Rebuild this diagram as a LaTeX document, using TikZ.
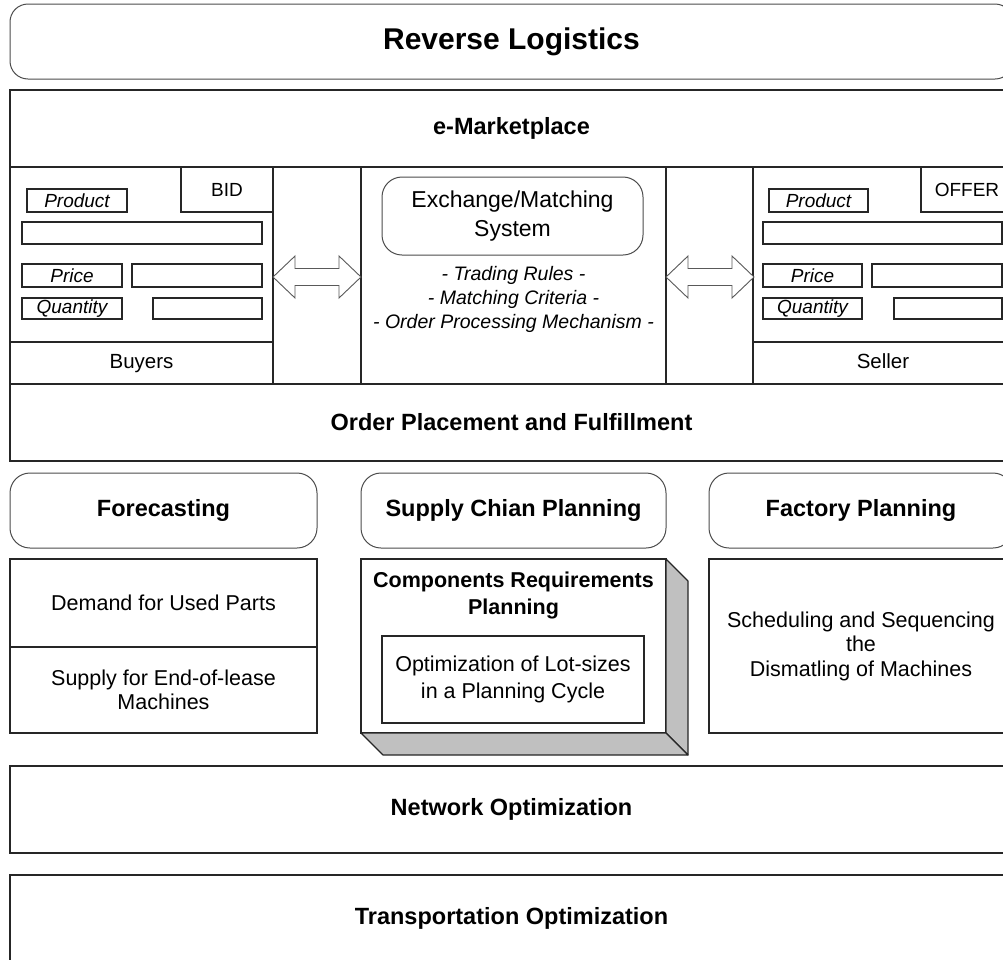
\documentclass[tikz,border=0pt]{standalone}
\usepackage{fontspec}
\setmainfont{Liberation Sans}
\definecolor{shadegray}{RGB}{192,192,192}
\tikzset{
  rect/.style={draw=black!85, line width=1.3pt, fill=white, inner sep=0pt, outer sep=0pt},
  rnd/.style={draw=black!70, line width=1pt, fill=white, rounded corners=18pt, inner sep=0pt, outer sep=0pt},
  field/.style={draw=black!85, line width=1.1pt, fill=white, inner sep=0pt, outer sep=0pt},
  titlef/.style={font=\fontsize{30}{34}\selectfont\bfseries},
  hbold/.style={font=\fontsize{23.5}{28}\selectfont\bfseries, align=center},
  sbold/.style={font=\fontsize{21.5}{27}\selectfont\bfseries, align=center},
  body/.style={font=\fontsize{21.5}{24.5}\selectfont, align=center},
  bodyb/.style={font=\fontsize{21.5}{27}\selectfont, align=center},
  exch/.style={font=\fontsize{23}{29}\selectfont, align=center},
  ital/.style={font=\fontsize{19.5}{24}\selectfont\itshape, align=center},
  lab/.style={font=\fontsize{19}{22}\selectfont},
  panel/.style={font=\fontsize{20.5}{24}\selectfont, text height=15, text depth=4},
  labi/.style={font=\fontsize{19}{22}\selectfont\itshape},
  dblarrow/.style={draw=black!65, line width=0.9pt, fill=white},
  face/.style={draw=black!85, line width=1.1pt, fill=shadegray, line join=round},
}
\newcommand\mybox[7]{\node[#2, minimum width={(#5)-(#3)}, minimum height={(#6)-(#4)}] (#1) at ({((#3)+(#5))/2},{((#4)+(#6))/2}) {#7};}
\newcommand\dblarr[1]{\draw[dblarrow, shift={(#1,0)}] (273,277) -- (295,256) -- (295,268.5) -- (339,268.5) -- (339,256) -- (361,277) -- (339,298) -- (339,285.5) -- (295,285.5) -- (295,298) -- cycle;}
\begin{document}
\begin{tikzpicture}[x=1pt,y=-1pt]
\useasboundingbox (0,0) rectangle (1003,959);
\clip (0,0) rectangle (1003,959);

% Reverse Logistics
\mybox{rl}{rnd, titlef}{10}{4}{1013}{79}{Reverse Logistics}

% e-Marketplace block
\mybox{em}{rect, hbold}{10}{90}{1013}{167}{e-Marketplace}
\mybox{buyp}{rect}{10}{167}{273}{342}{}
\mybox{buyr}{rect, panel}{10}{342}{273}{384}{Buyers}
\mybox{colL}{rect}{273}{167}{361}{384}{}
\mybox{ctr}{rect}{361}{167}{666}{384}{}
\mybox{colR}{rect}{666}{167}{753}{384}{}
\mybox{selp}{rect}{753}{167}{1013}{342}{}
\mybox{selr}{rect, panel}{753}{342}{1013}{384}{Seller}
\mybox{bid}{rect, lab}{181}{167}{273}{212}{BID}
\mybox{offer}{rect, lab}{921}{167}{1013}{212}{OFFER}
\mybox{ord}{rect, hbold}{10}{384}{1013}{461}{Order Placement and Fulfillment}

% buyer fields
\mybox{bprodl}{field, labi}{27}{189}{127}{212}{Product}
\mybox{bprodf}{field}{22}{222}{262}{244}{}
\mybox{bpril}{field, labi}{22}{264}{122}{287}{Price}
\mybox{bprif}{field}{132}{264}{262}{287}{}
\mybox{bqtyl}{field, labi}{22}{298}{122}{319}{Quantity}
\mybox{bqtyf}{field}{153}{298}{262}{319}{}

% seller fields
\mybox{sprodl}{field, labi}{769}{189}{868}{212}{Product}
\mybox{sprodf}{field}{763}{222}{1002}{244}{}
\mybox{spril}{field, labi}{763}{264}{862}{287}{Price}
\mybox{sprif}{field}{872}{264}{1002}{287}{}
\mybox{sqtyl}{field, labi}{763}{298}{862}{319}{Quantity}
\mybox{sqtyf}{field}{894}{298}{1002}{319}{}

% exchange system
\mybox{ex}{rnd, exch, rounded corners=20pt}{382}{177}{643}{255}{Exchange/Matching\\System}
\node[ital] (rules) at (513.5,299) {- Trading Rules -\\- Matching Criteria -\\- Order Processing Mechanism -};

% double arrows
\dblarr{0}
\dblarr{393}

% planning headers
\mybox{fc}{rnd, hbold, rounded corners=20pt}{10}{473}{317}{548}{Forecasting}
\mybox{scp}{rnd, hbold, rounded corners=20pt}{361}{473}{666}{548}{Supply Chian Planning}
\mybox{fp}{rnd, hbold, rounded corners=20pt}{709}{473}{1013}{548}{Factory Planning}

% forecasting content
\mybox{dem}{rect, body}{10}{559}{317}{647}{Demand for Used Parts}
\mybox{sup}{rect, body}{10}{647}{317}{733}{Supply for End-of-lease\\Machines}

% components requirements planning (3D box)
\mybox{crp}{rect}{361}{559}{666}{733}{}
\draw[face] (crp.north east) -- ++(22,22) -- ++(0,174) -- (crp.south east) -- cycle;
\draw[face] (crp.south west) -- (crp.south east) -- ++(22,22) -- ++(-305,0) -- cycle;
\node[sbold] (crpt) at (513.5,595) {Components Requirements\\Planning};
\mybox{lot}{rect, bodyb, line width=1.1pt}{382}{636}{644}{723}{Optimization of Lot-sizes\\in a Planning Cycle}

% factory content
\mybox{sched}{rect, body}{709}{559}{1013}{733}{Scheduling and Sequencing\\the\\Dismatling of Machines}

% optimization rows
\mybox{net}{rect, hbold}{10}{766}{1013}{853}{Network Optimization}
\mybox{trans}{rect, hbold}{10}{875}{1013}{962}{Transportation Optimization}
\end{tikzpicture}
\end{document}
